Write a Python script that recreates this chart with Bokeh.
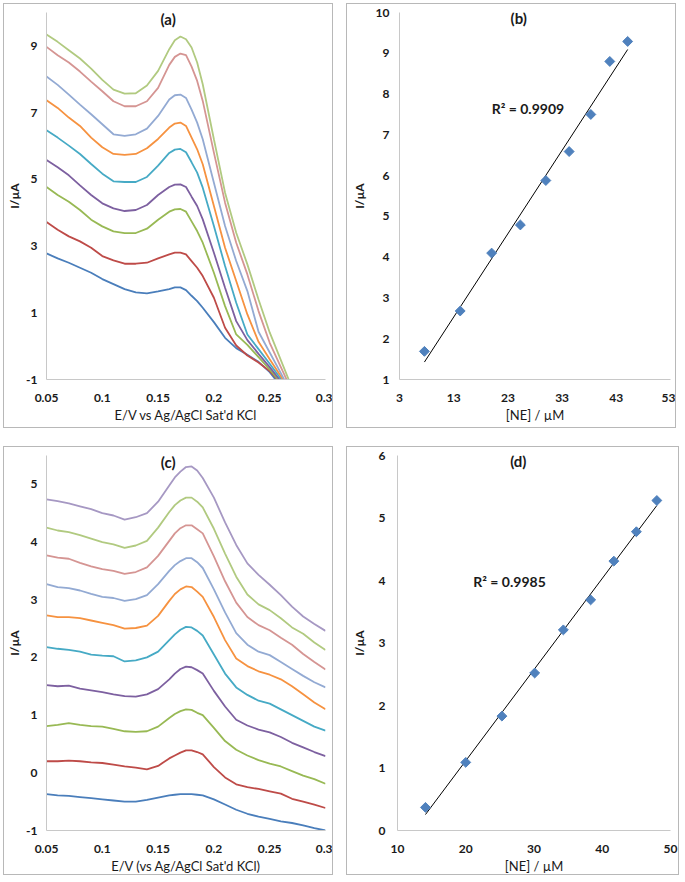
import numpy as np
from bokeh.plotting import figure
from bokeh.layouts import row, column
from bokeh.models import Range1d, FixedTicker, Label, Spacer
from bokeh.embed import file_html
from bokeh.resources import INLINE

# ---------------- data ----------------
# (a) DPV curves, E/V
potential_a = [0.05, 0.06, 0.07, 0.08, 0.09, 0.10, 0.11, 0.12, 0.13, 0.14, 0.15, 0.16,
               0.165, 0.17, 0.175, 0.18, 0.185, 0.19, 0.20, 0.21, 0.22, 0.23, 0.24,
               0.25, 0.26, 0.27]
curve_a1 = [2.78, 2.63, 2.50, 2.35, 2.20, 2.01, 1.86, 1.71, 1.61, 1.58, 1.64, 1.71, 1.76,
            1.76, 1.68, 1.51, 1.35, 1.15, 0.72, 0.25, -0.06, -0.26, -0.47, -0.78, -1.20, -1.60]
curve_a2 = [3.72, 3.49, 3.29, 3.14, 2.95, 2.70, 2.57, 2.47, 2.47, 2.50, 2.63, 2.75, 2.80,
            2.80, 2.75, 2.55, 2.35, 2.10, 1.45, 0.55, 0.02, -0.28, -0.49, -0.75, -1.10, -1.50]
curve_a3 = [4.77, 4.53, 4.33, 4.08, 3.79, 3.59, 3.44, 3.39, 3.39, 3.52, 3.79, 4.03, 4.10,
            4.11, 4.03, 3.74, 3.45, 3.10, 2.20, 1.20, 0.35, 0.04, -0.33, -0.70, -1.10, -1.50]
curve_a4 = [5.58, 5.36, 5.12, 4.82, 4.53, 4.28, 4.13, 4.05, 4.08, 4.23, 4.53, 4.77, 4.84,
            4.85, 4.77, 4.48, 4.20, 3.80, 2.80, 1.75, 0.75, 0.18, -0.23, -0.63, -1.05, -1.45]
curve_a5 = [6.47, 6.25, 6.01, 5.76, 5.46, 5.17, 4.94, 4.92, 4.92, 5.07, 5.41, 5.79, 5.89,
            5.91, 5.81, 5.51, 5.20, 4.75, 3.60, 2.40, 1.30, 0.35, -0.09, -0.53, -0.98, -1.45]
curve_a6 = [7.37, 7.14, 6.85, 6.60, 6.25, 5.96, 5.76, 5.73, 5.76, 5.93, 6.21, 6.55, 6.67,
            6.70, 6.60, 6.25, 5.90, 5.45, 4.20, 2.95, 1.95, 0.95, 0.13, -0.39, -0.90, -1.45]
curve_a7 = [8.08, 7.83, 7.54, 7.24, 6.95, 6.65, 6.35, 6.30, 6.35, 6.52, 6.90, 7.39, 7.52,
            7.54, 7.44, 7.09, 6.70, 6.20, 4.90, 3.60, 2.55, 1.65, 0.43, -0.19, -0.81, -1.45]
curve_a8 = [8.97, 8.72, 8.50, 8.23, 7.93, 7.64, 7.34, 7.19, 7.19, 7.34, 7.74, 8.43, 8.67,
            8.77, 8.72, 8.38, 7.95, 7.35, 5.80, 4.30, 3.10, 2.15, 1.05, 0.10, -0.63, -1.35]
curve_a9 = [9.34, 9.12, 8.87, 8.62, 8.32, 7.98, 7.69, 7.57, 7.58, 7.81, 8.25, 8.90, 9.17,
            9.28, 9.20, 8.95, 8.50, 7.85, 6.20, 4.60, 3.40, 2.45, 1.40, 0.41, -0.42, -1.25]

# (b) calibration
conc_b = [7.6, 14.2, 20.0, 25.3, 30.0, 34.3, 38.3, 41.8, 45.1]
peak_b = [1.69, 2.68, 4.10, 4.79, 5.88, 6.59, 7.50, 8.80, 9.29]
r2_b = "R\u00b2 = 0.9909"

# (c) DPV curves
potential_c = [0.05, 0.06, 0.07, 0.08, 0.09, 0.10, 0.11, 0.12, 0.13, 0.14, 0.15, 0.16,
               0.165, 0.17, 0.175, 0.18, 0.185, 0.19, 0.20, 0.21, 0.22, 0.23, 0.24,
               0.25, 0.26, 0.27, 0.28, 0.29, 0.30]
curve_c1 = [-0.37, -0.39, -0.40, -0.42, -0.44, -0.46, -0.48, -0.50, -0.50, -0.47, -0.43, -0.39,
            -0.38, -0.37, -0.37, -0.37, -0.38, -0.39, -0.46, -0.55, -0.64, -0.71, -0.76,
            -0.80, -0.84, -0.87, -0.91, -0.96, -1.00]
curve_c2 = [0.20, 0.20, 0.21, 0.20, 0.18, 0.17, 0.14, 0.11, 0.09, 0.06, 0.12, 0.25, 0.30,
            0.35, 0.39, 0.39, 0.36, 0.32, 0.10, -0.08, -0.20, -0.25, -0.28, -0.32, -0.36,
            -0.45, -0.50, -0.55, -0.61]
curve_c3 = [0.81, 0.83, 0.86, 0.83, 0.81, 0.80, 0.76, 0.72, 0.71, 0.72, 0.80, 0.95, 1.02,
            1.07, 1.10, 1.09, 1.04, 1.00, 0.78, 0.55, 0.40, 0.30, 0.22, 0.16, 0.11, 0.03,
            -0.05, -0.11, -0.19]
curve_c4 = [1.52, 1.50, 1.51, 1.46, 1.43, 1.40, 1.36, 1.33, 1.32, 1.36, 1.45, 1.62, 1.72,
            1.80, 1.84, 1.83, 1.78, 1.72, 1.42, 1.15, 0.92, 0.82, 0.75, 0.70, 0.62, 0.52,
            0.44, 0.36, 0.29]
curve_c5 = [2.18, 2.15, 2.13, 2.10, 2.05, 2.03, 2.02, 1.93, 1.95, 2.00, 2.10, 2.30, 2.40,
            2.48, 2.53, 2.52, 2.46, 2.38, 2.05, 1.72, 1.48, 1.35, 1.25, 1.20, 1.10, 1.00,
            0.90, 0.80, 0.73]
curve_c6 = [2.73, 2.70, 2.70, 2.68, 2.64, 2.60, 2.56, 2.50, 2.51, 2.55, 2.72, 2.98, 3.10,
            3.18, 3.23, 3.22, 3.14, 3.05, 2.70, 2.30, 1.98, 1.85, 1.76, 1.70, 1.62, 1.50,
            1.36, 1.22, 1.10]
curve_c7 = [3.27, 3.22, 3.20, 3.16, 3.10, 3.05, 3.03, 2.98, 3.01, 3.08, 3.27, 3.50, 3.60,
            3.67, 3.72, 3.72, 3.65, 3.55, 3.18, 2.78, 2.42, 2.22, 2.10, 2.04, 1.92, 1.80,
            1.68, 1.57, 1.48]
curve_c8 = [3.77, 3.73, 3.71, 3.64, 3.58, 3.53, 3.50, 3.45, 3.48, 3.56, 3.76, 4.02, 4.15,
            4.24, 4.29, 4.29, 4.22, 4.15, 3.75, 3.32, 2.95, 2.70, 2.56, 2.47, 2.34, 2.22,
            2.06, 1.92, 1.79]
curve_c9 = [4.25, 4.20, 4.17, 4.12, 4.06, 4.00, 3.96, 3.90, 3.94, 4.02, 4.25, 4.52, 4.64,
            4.72, 4.77, 4.77, 4.70, 4.60, 4.23, 3.80, 3.40, 3.09, 2.92, 2.82, 2.68, 2.52,
            2.41, 2.26, 2.13]
curve_c10 = [4.74, 4.71, 4.67, 4.62, 4.57, 4.50, 4.46, 4.39, 4.43, 4.50, 4.70, 4.98, 5.12,
             5.22, 5.30, 5.31, 5.24, 5.11, 4.77, 4.34, 3.95, 3.63, 3.43, 3.26, 3.08, 2.88,
             2.71, 2.58, 2.46]

# (d) calibration
conc_d = [14.1, 20.0, 25.3, 30.1, 34.3, 38.3, 41.7, 45.0, 48.0]
peak_d = [0.37, 1.09, 1.83, 2.52, 3.21, 3.69, 4.31, 4.78, 5.28]
r2_d = "R\u00b2 = 0.9985"

# tick labels
ticks_e = [0.05, 0.1, 0.15, 0.2, 0.25, 0.3]
tick_labels_e = ["0.05", "0.1", "0.15", "0.2", "0.25", "0.3"]
ticks_ya = [-1, 1, 3, 5, 7, 9]
tick_labels_ya = ["-1", "1", "3", "5", "7", "9"]
ticks_xb = [3, 13, 23, 33, 43, 53]
ticks_yb = [1, 2, 3, 4, 5, 6, 7, 8, 9, 10]
ticks_yc = [-1, 0, 1, 2, 3, 4, 5]
tick_labels_yc = ["-1", "0", "1", "2", "3", "4", "5"]
ticks_xd = [10, 20, 30, 40, 50]
ticks_yd = [0, 1, 2, 3, 4, 5, 6]

series_colors = ["#4A7EBB", "#BE4B48", "#98B954", "#7D60A0", "#46AAC5", "#F69240",
                 "#93AAD3", "#D59593", "#B1CA80", "#A698C3"]

FONT = "Lato"
TXT = "#1a1a1a"


def base_fig(w, h, xr, yr, left, right, top, bottom, xlabel, xt, yt,
             y_std, ylab_std):
    p = figure(width=w, height=h, x_range=Range1d(*xr), y_range=Range1d(*yr),
               output_backend="svg", toolbar_location=None, tools="",
               min_border_left=left, min_border_right=right,
               min_border_top=top, min_border_bottom=bottom,
               styles={"border": "1px solid #b8b8b8"})
    p.outline_line_color = None
    p.xgrid.visible = False
    p.ygrid.visible = False
    p.background_fill_color = "white"
    p.border_fill_color = "white"
    p.xaxis.ticker = FixedTicker(ticks=xt)
    p.yaxis.ticker = FixedTicker(ticks=yt)
    for ax in (p.xaxis[0], p.yaxis[0]):
        ax.axis_line_color = "#c8c8c8"
        ax.axis_line_width = 1
        ax.major_tick_line_color = None
        ax.minor_tick_line_color = None
        ax.major_tick_out = 0
        ax.major_tick_in = 0
        ax.minor_tick_out = 0
        ax.minor_tick_in = 0
        ax.major_label_text_font = FONT
        ax.major_label_text_font_style = "bold"
        ax.major_label_text_font_size = "12px"
        ax.major_label_text_color = TXT
        ax.axis_label_text_font = FONT
        ax.axis_label_text_color = TXT
    p.xaxis.axis_label = xlabel
    p.xaxis.axis_label_text_font_size = "13px"
    p.xaxis.axis_label_text_font_style = "normal"
    p.xaxis.major_label_standoff = 14
    p.xaxis.axis_label_standoff = 2
    p.yaxis.axis_label = "I/\u00b5A"
    p.yaxis.axis_label_text_font_size = "12px"
    p.yaxis.axis_label_text_font_style = "bold"
    p.yaxis.major_label_standoff = y_std
    p.yaxis.axis_label_standoff = ylab_std
    return p


def add_title(p, x, y, txt):
    p.add_layout(Label(x=x, y=y, text=txt, text_align="center", text_baseline="middle",
                       text_font=FONT, text_font_size="15px", text_font_style="bold",
                       text_color=TXT))


def add_r2(p, x, y, txt):
    p.add_layout(Label(x=x, y=y, text=txt, text_align="left", text_baseline="middle",
                       text_font=FONT, text_font_size="14px", text_font_style="bold",
                       text_color=TXT))


# ---- (a)
pa = base_fig(330, 425, (0.05, 0.3), (-1, 10), 40, 9, 5, 49,
              "E/V vs Ag/AgCl Sat'd KCl", ticks_e, ticks_ya, 9, 1)
pa.xaxis.major_label_overrides = dict(zip(ticks_e, tick_labels_e))
pa.yaxis.major_label_overrides = dict(zip(ticks_ya, tick_labels_ya))
for ys, c in zip([curve_a1, curve_a2, curve_a3, curve_a4, curve_a5, curve_a6, curve_a7,
                  curve_a8, curve_a9], series_colors):
    pa.line(potential_a, ys, line_color=c, line_width=1.8)
add_title(pa, 0.159, 9.82, "(a)")

# ---- (b)
pb = base_fig(330, 425, (3, 53), (1, 10), 52, 7, 8, 50,
              "[NE] / \u00b5M", ticks_xb, ticks_yb, 10, 6)
kb = np.polyfit(conc_b, peak_b, 1)
xb_fit = [min(conc_b), max(conc_b)]
pb.line(xb_fit, list(np.polyval(kb, xb_fit)), line_color="black", line_width=1)
pb.scatter(conc_b, peak_b, marker="square", angle=np.pi / 4, size=7,
           fill_color="#4F81BD", line_color="#4F81BD")
add_title(pb, 25.0, 9.86, "(b)")
add_r2(pb, 20.0, 7.65, r2_b)

# ---- (c)
pc = base_fig(330, 429, (0.05, 0.3), (-1, 5.5), 40, 9, 7, 46,
              "E/V (vs Ag/AgCl Sat'd KCl)", ticks_e, ticks_yc, 9, 1)
pc.xaxis.major_label_overrides = dict(zip(ticks_e, tick_labels_e))
pc.yaxis.major_label_overrides = dict(zip(ticks_yc, tick_labels_yc))
for ys, c in zip([curve_c1, curve_c2, curve_c3, curve_c4, curve_c5, curve_c6, curve_c7,
                  curve_c8, curve_c9, curve_c10], series_colors):
    pc.line(potential_c, ys, line_color=c, line_width=1.8)
add_title(pc, 0.159, 5.38, "(c)")

# ---- (d)
pd_ = base_fig(333, 429, (10, 50), (0, 6), 50, 10, 8, 46,
               "[NE] / \u00b5M", ticks_xd, ticks_yd, 12, 9)
kd = np.polyfit(conc_d, peak_d, 1)
xd_fit = [min(conc_d), max(conc_d)]
pd_.line(xd_fit, list(np.polyval(kd, xd_fit)), line_color="black", line_width=1)
pd_.scatter(conc_d, peak_d, marker="square", angle=np.pi / 4, size=7,
            fill_color="#4F81BD", line_color="#4F81BD")
add_title(pd_, 27.7, 5.91, "(d)")
add_r2(pd_, 21.1, 3.98, r2_d)

layout = column(
    Spacer(width=10, height=3),
    row(Spacer(width=3, height=10), pa, Spacer(width=13, height=10), pb),
    Spacer(width=10, height=18),
    row(Spacer(width=3, height=10), pc, Spacer(width=13, height=10), pd_),
)

open("out.html", "w").write(file_html(layout, INLINE))
